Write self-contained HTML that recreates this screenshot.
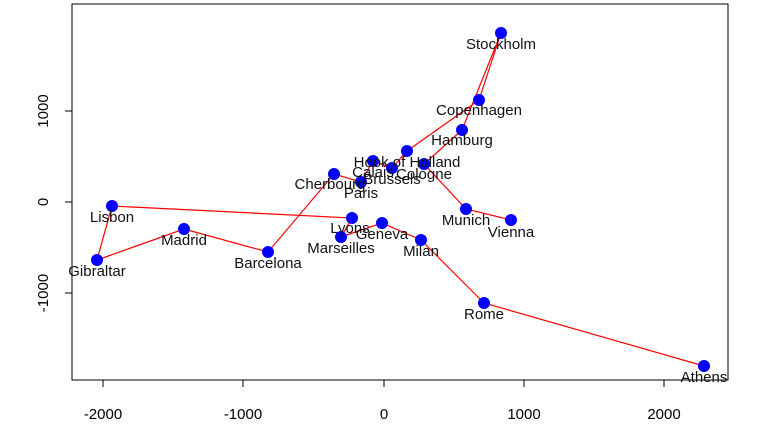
<!DOCTYPE html>
<html><head><style>body{margin:0;background:#fff}</style></head><body>
<svg width="768" height="434" xmlns="http://www.w3.org/2000/svg" font-family="Liberation Sans, Arial, sans-serif">
<rect x="72" y="4" width="656" height="376" fill="none" stroke="#000" stroke-width="1"/>
<g stroke="#000">
<line x1="103" y1="380" x2="664" y2="380"/>
<line x1="103" y1="380" x2="103" y2="387"/><line x1="243" y1="380" x2="243" y2="387"/><line x1="384" y1="380" x2="384" y2="387"/><line x1="524" y1="380" x2="524" y2="387"/><line x1="664" y1="380" x2="664" y2="387"/>
<line x1="72" y1="111" x2="72" y2="293"/>
<line x1="65" y1="111" x2="72" y2="111"/><line x1="65" y1="202" x2="72" y2="202"/><line x1="65" y1="293" x2="72" y2="293"/>
</g>
<g font-size="15" text-anchor="middle" fill="#000">
<text x="103" y="419">-2000</text><text x="243" y="419">-1000</text><text x="384" y="419">0</text><text x="524" y="419">1000</text><text x="664" y="419">2000</text>
<text transform="translate(48,111) rotate(-90)">1000</text>
<text transform="translate(48,202) rotate(-90)">0</text>
<text transform="translate(48,293) rotate(-90)">-1000</text>
</g>
<polyline fill="none" stroke="#ff0000" stroke-width="1.2" points="704,366 484,303 421,240 382,223 341,237 352,218 112,206 97,260 184,229 268,252 334,174 361,182 373,161 392,168 407,151 479,100 501,33 462,130 424,164 466,209 511,220"/>
<g fill="#0000ff">
<circle cx="501" cy="33" r="6"/><circle cx="479" cy="100" r="6"/><circle cx="462" cy="130" r="6"/><circle cx="407" cy="151" r="6"/><circle cx="373" cy="161" r="6"/><circle cx="392" cy="168" r="6"/><circle cx="424" cy="164" r="6"/><circle cx="334" cy="174" r="6"/><circle cx="361" cy="182" r="6"/><circle cx="466" cy="209" r="6"/><circle cx="511" cy="220" r="6"/><circle cx="352" cy="218" r="6"/><circle cx="382" cy="223" r="6"/><circle cx="341" cy="237" r="6"/><circle cx="421" cy="240" r="6"/><circle cx="112" cy="206" r="6"/><circle cx="184" cy="229" r="6"/><circle cx="97" cy="260" r="6"/><circle cx="268" cy="252" r="6"/><circle cx="484" cy="303" r="6"/><circle cx="704" cy="366" r="6"/>
</g>
<g font-size="15" text-anchor="middle" fill="#111">
<text x="501" y="49">Stockholm</text><text x="479" y="115">Copenhagen</text><text x="462" y="145">Hamburg</text><text x="407" y="167">Hook of Holland</text><text x="373" y="177">Calais</text><text x="392" y="184">Brussels</text><text x="424" y="179">Cologne</text><text x="330" y="189">Cherbourg</text><text x="361" y="198">Paris</text><text x="466" y="225">Munich</text><text x="511" y="237">Vienna</text><text x="350" y="233">Lyons</text><text x="382" y="239">Geneva</text><text x="341" y="253">Marseilles</text><text x="421" y="256">Milan</text><text x="112" y="222">Lisbon</text><text x="184" y="245">Madrid</text><text x="97" y="276">Gibraltar</text><text x="268" y="268">Barcelona</text><text x="484" y="319">Rome</text><text x="704" y="382">Athens</text>
</g>
</svg>
</body></html>
